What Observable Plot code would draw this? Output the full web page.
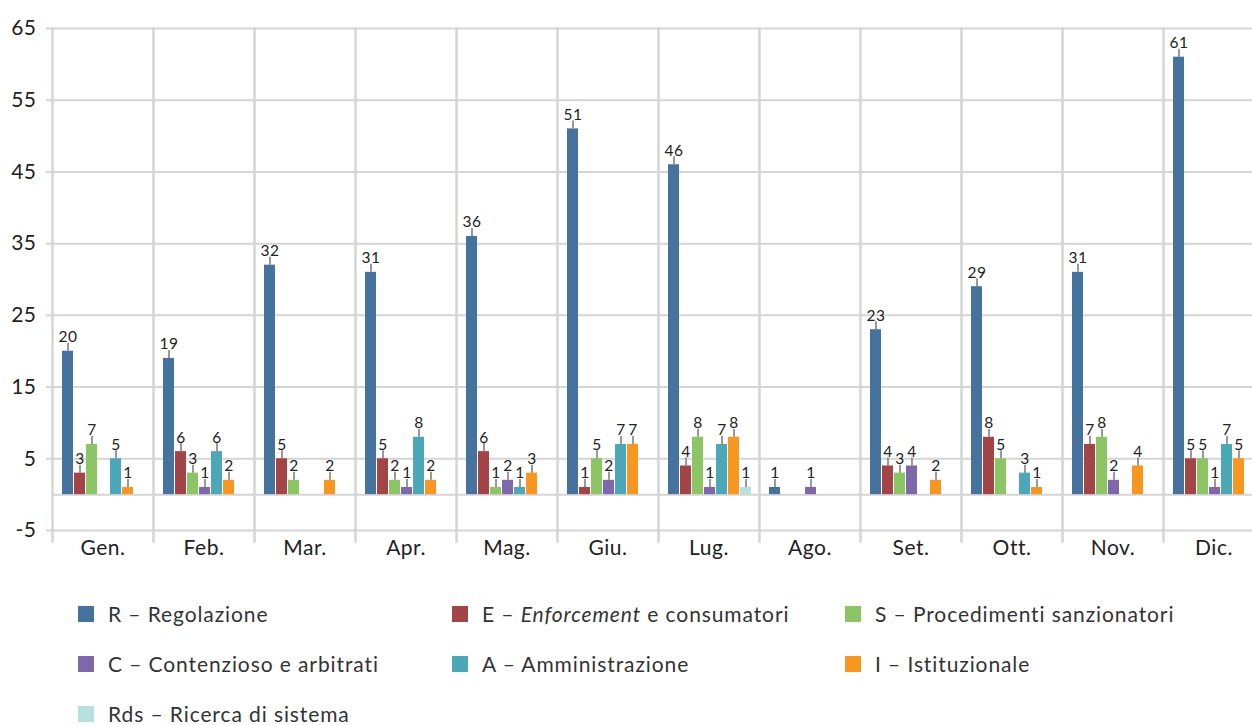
<!DOCTYPE html>
<html>
<head>
<meta charset="utf-8">
<script src="https://cdn.jsdelivr.net/npm/d3@7"></script>
<script src="https://cdn.jsdelivr.net/npm/@observablehq/plot@0.6"></script>
<style>
  html, body { margin: 0; padding: 0; background: #fff; overflow: hidden; }
  body { width: 1252px; height: 725px; font-family: Lato, "Open Sans", sans-serif; }
  #chart svg { display: block; letter-spacing: 0.5px; }
  .legend { display: grid; grid-template-columns: 374px 393px auto; grid-auto-rows: 50px;
            margin-left: 78px; padding-top: 17px; font-size: 21px; letter-spacing: 0.9px; color: #333; line-height: 1.1; }
  .item { display: flex; align-items: center; white-space: nowrap; }
  .sw { width: 16px; height: 16px; margin-right: 14px; flex: none; }
</style>
</head>
<body>
<div id="chart"></div>
<div class="legend" id="legend"></div>
<script>
const months = ["Gen.", "Feb.", "Mar.", "Apr.", "Mag.", "Giu.", "Lug.", "Ago.", "Set.", "Ott.", "Nov.", "Dic."];
const seriesKeys = ["R", "E", "S", "C", "A", "I", "Rds"];
const seriesColors = ["#45739e", "#a34546", "#8cc664", "#7e67aa", "#4aa8b9", "#f7971f", "#b7e1de"];
const legendLabels = [
  "R – Regolazione",
  "E – <i>Enforcement</i> e consumatori",
  "S – Procedimenti sanzionatori",
  "C – Contenzioso e arbitrati",
  "A – Amministrazione",
  "I – Istituzionale",
  "Rds – Ricerca di sistema"
];
const R   = [20, 19, 32, 31, 36, 51, 46, 1, 23, 29, 31, 61];
const E   = [3, 6, 5, 5, 6, 1, 4, null, 4, 8, 7, 5];
const S   = [7, 3, 2, 2, 1, 5, 8, null, 3, 5, 8, 5];
const C   = [null, 1, null, 1, 2, 2, 1, 1, 4, null, 2, 1];
const A   = [5, 6, null, 8, 1, 7, 7, null, null, 3, null, 7];
const I   = [1, 2, 2, 2, 3, 7, 8, null, 2, 1, 4, 5];
const Rds = [null, null, null, null, null, null, 1, null, null, null, null, null];
const yTicks = [-5, 5, 15, 25, 35, 45, 55, 65];
const gridValues = [-5, 0, 5, 15, 25, 35, 45, 55, 65];

const seriesValues = [R, E, S, C, A, I, Rds];
const rows = [];
months.forEach((m, mi) => {
  seriesKeys.forEach((k, si) => {
    const v = seriesValues[si][mi];
    if (v != null) rows.push({month: m, series: k, value: v});
  });
});

const grid = "#d5d5d5";
const chart = Plot.plot({
  width: 1252,
  height: 572,
  marginTop: 28,
  marginBottom: 42,
  marginLeft: 49,
  marginRight: -15,
  style: {fontFamily: "Lato, 'Open Sans', sans-serif", fontSize: "20px", color: "#222", background: "#fff"},
  fx: {domain: months, padding: 0, label: null, axis: null},
  x: {domain: seriesKeys, paddingInner: 0.11, paddingOuter: 0.65, align: 0.57, axis: null},
  y: {domain: [-5, 65], axis: null},
  color: {domain: seriesKeys, range: seriesColors},
  marks: [
    Plot.ruleY(gridValues, {stroke: grid, strokeWidth: 2}),
    Plot.frame({anchor: "left", stroke: grid, strokeWidth: 2.5, insetBottom: -11}),
    Plot.axisY({ticks: yTicks, tickFormat: d => (d < 0 ? "-" + Math.abs(d) : String(d)), tickSize: 6, tickPadding: 10, stroke: grid, strokeWidth: 2, fill: "#222", fontSize: 21, label: null, anchor: "left"}),
    Plot.axisFx({anchor: "bottom", tickSize: 0, tickPadding: 10, fill: "#222", fontSize: 21, label: null}),
    Plot.barY(rows, {fx: "month", x: "series", y: "value", fill: "series"}),
    Plot.ruleX(rows, {fx: "month", x: "series", y1: "value", y2: "value", insetBottom: 8, stroke: "#777", strokeWidth: 1.5}),
    Plot.text(rows, {fx: "month", x: "series", y: "value", text: "value", lineAnchor: "bottom", dy: -9, fontSize: 15.5, fill: "#222"})
  ]
});
document.getElementById("chart").appendChild(chart);

const legend = document.getElementById("legend");
seriesKeys.forEach((k, i) => {
  const d = document.createElement("div");
  d.className = "item";
  d.innerHTML = `<span class="sw" style="background:${seriesColors[i]}"></span><span>${legendLabels[i]}</span>`;
  legend.appendChild(d);
});
</script>
</body>
</html>
